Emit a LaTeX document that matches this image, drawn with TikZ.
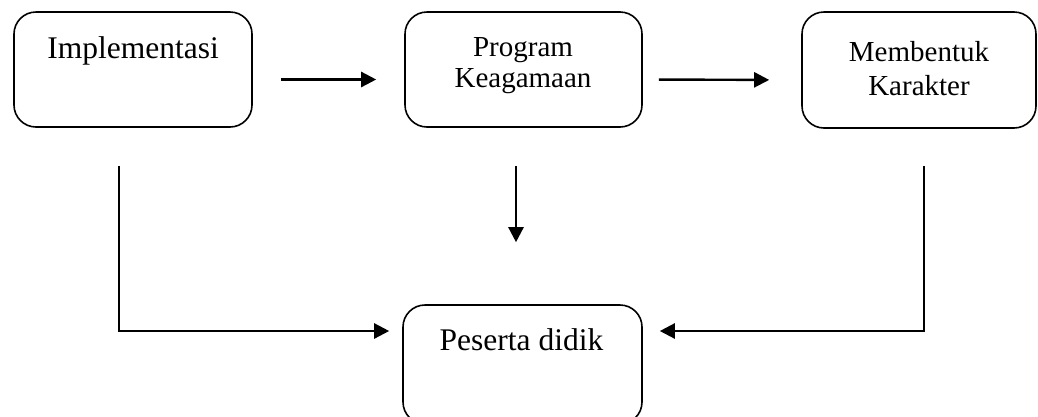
\documentclass[tikz,border=0pt]{standalone}
\usepackage{fontspec}
\setmainfont{Liberation Serif}
\usetikzlibrary{arrows.meta}
\begin{document}
\begin{tikzpicture}[x=1pt,y=-1pt,
  box/.style={draw,line width=1.6pt,rounded corners=22pt,inner sep=0pt},
  arr/.style={line width=2.4pt,-{Triangle[length=15pt,width=15pt]}},
  bigtxt/.style={font=\fontsize{31.5}{34}\selectfont,inner sep=0pt,anchor=base},
  smalltxt/.style={font=\fontsize{29}{31}\selectfont,inner sep=0pt,anchor=base}]
\useasboundingbox (0,0) rectangle (1038,416);
% boxes
\node[box,minimum width=238pt,minimum height=115pt] (b1) at (133,69.5) {};
\node[box,minimum width=237pt,minimum height=115pt] (b2) at (523.5,69.5) {};
\node[box,minimum width=234pt,minimum height=116pt] (b3) at (919,70) {};
\node[box,minimum width=239pt,minimum height=119pt] (b4) at (522.5,364.5) {};
% texts
\node[bigtxt] (t1) at (133,58) {Implementasi};
\node[smalltxt] (t2a) at (523,56) {Program};
\node[smalltxt] (t2b) at (523,87) {Keagamaan};
\node[smalltxt] (t3a) at (919,61) {Membentuk};
\node[smalltxt] (t3b) at (919,95) {Karakter};
\node[bigtxt] (t4) at (521.5,350) {Peserta didik};
% connectors
\draw[arr,shorten <=28pt,shorten >=28pt] ([yshift=-10pt]b1.east) -- ([yshift=-10pt]b2.west);
\draw[arr,shorten <=16pt,shorten >=32pt] ([yshift=-10pt]b2.east) -- ([yshift=-10pt]b3.west);
\draw[arr,shorten <=38pt,shorten >=62pt] ([xshift=-7.5pt]b2.south) -- ([xshift=-7.5pt]b2.south |- b4.north);
\draw[arr,shorten >=13pt] ([xshift=-14pt,yshift=-38pt]b1.south) |- ([yshift=33.5pt]b4.west);
\draw[arr,shorten >=17pt] ([xshift=5pt,yshift=-37pt]b3.south) |- ([yshift=33.5pt]b4.east);
\end{tikzpicture}
\end{document}
